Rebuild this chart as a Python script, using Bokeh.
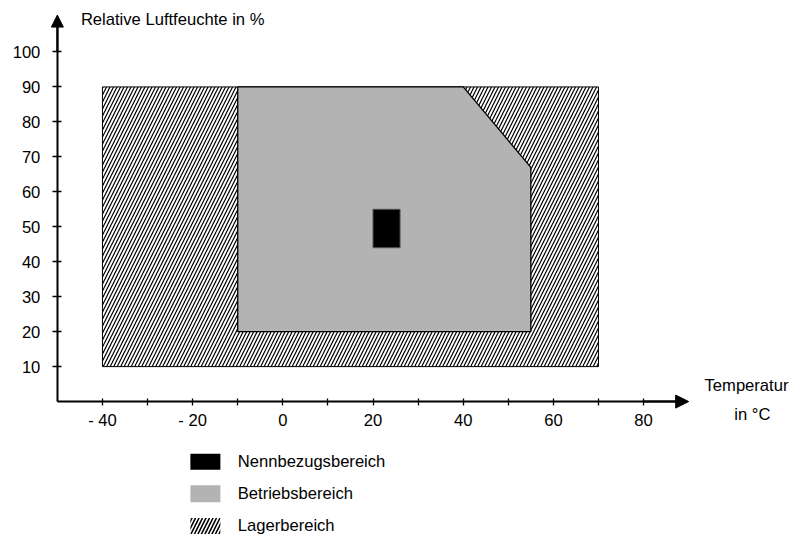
from bokeh.plotting import figure
from bokeh.models import Range1d, FixedTicker, Arrow, NormalHead
from bokeh.core.properties import value
from bokeh.embed import file_html
from bokeh.resources import INLINE

# ---- data ----
x_ticks = [-40, -30, -20, -10, 0, 10, 20, 30, 40, 50, 60, 70, 80]
x_tick_labels = ["- 40", "", "- 20", "", "0", "", "20", "", "40", "", "60", "", "80"]
y_ticks = [10, 20, 30, 40, 50, 60, 70, 80, 90, 100]

storage_x = [-40, 70]        # Lagerbereich (temperature range)
storage_y = [10, 90]         # Lagerbereich (humidity range)
operating_x = [-10, -10, 40, 55, 55]   # Betriebsbereich outline
operating_y = [20, 90, 90, 67, 20]
reference_x = [20, 26]       # Nennbezugsbereich
reference_y = [44, 55]

legend_labels = ["Nennbezugsbereich", "Betriebsbereich", "Lagerbereich"]
x_title = "Temperatur"
x_unit = "in °C"
y_title = "Relative Luftfeuchte in %"

FONT = "Liberation Sans"
FS = "16.6px"
GREY = "#b3b3b3"

# layout: reference picture 812x554 mapped onto a 796x538 canvas
W, H = 796, 538
RW, RH = 812, 554
XPX, YPX = 4.6, 3.6          # reference px per unit
X0, Y0 = 288, 413            # reference px of data origin


def dx(px):
    return (px - X0) / XPX


def dy(py):
    return (Y0 - py) / YPX


p = figure(width=W, height=H, output_backend="svg", toolbar_location=None,
           x_range=Range1d(dx(0), dx(RW)), y_range=Range1d(dy(RH), dy(0)),
           min_border=0, outline_line_color=None, background_fill_color="white")
p.grid.visible = False

x_axis_pos = 0
y_axis_pos = -50

# axes
xa = p.xaxis[0]
xa.fixed_location = x_axis_pos
xa.ticker = FixedTicker(ticks=x_ticks, minor_ticks=[])
xa.major_label_overrides = {t: l for t, l in zip(x_ticks, x_tick_labels)}
xa.bounds = (y_axis_pos, 88)
ya = p.yaxis[0]
ya.fixed_location = y_axis_pos
ya.ticker = FixedTicker(ticks=y_ticks, minor_ticks=[])
ya.bounds = (0, 108)
for ax in (xa, ya):
    ax.axis_line_width = 2
    ax.axis_line_color = "black"
    ax.major_tick_line_color = "black"
    ax.major_tick_line_width = 1.3
    ax.minor_tick_line_color = None
    ax.major_label_text_font = FONT
    ax.major_label_text_font_size = FS
    ax.major_label_text_color = "black"
xa.major_tick_in = 3
xa.major_tick_out = 4
xa.major_label_standoff = 5
ya.major_tick_in = 4
ya.major_tick_out = 5
ya.major_label_standoff = 12

# regions
p.quad(left=[storage_x[0]], right=[storage_x[1]], bottom=[storage_y[0]], top=[storage_y[1]],
       fill_color="white", hatch_pattern="/", hatch_scale=7, hatch_weight=1.2,
       hatch_color="black", line_color="black", line_width=1)
p.patch(operating_x, operating_y, fill_color=GREY, line_color="black", line_width=1.3)
p.quad(left=[reference_x[0]], right=[reference_x[1]], bottom=[reference_y[0]], top=[reference_y[1]],
       fill_color="black", line_color="#555555", line_width=1)

# arrows
p.add_layout(Arrow(x_start=80, y_start=x_axis_pos, x_end=90, y_end=x_axis_pos, line_width=2,
                   end=NormalHead(size=13, fill_color="black", line_color="black")))
p.add_layout(Arrow(x_start=y_axis_pos, y_start=100, x_end=y_axis_pos, y_end=dy(15), line_width=2,
                   end=NormalHead(size=12, fill_color="black", line_color="black")))

# axis titles
p.text(x=[dx(82)], y=[dy(20)], text=[y_title],
       text_font=value(FONT), text_font_size=value(FS), text_align="left",
       text_baseline="middle", text_color="black")
p.text(x=[dx(761)], y=[dy(396)], text=[x_title],
       text_font=value(FONT), text_font_size=value(FS), text_align="center",
       text_baseline="middle", text_color="black")
p.text(x=[dx(767)], y=[dy(426)], text=[x_unit],
       text_font=value(FONT), text_font_size=value(FS), text_align="center",
       text_baseline="middle", text_color="black")

# legend (manual)
row_y = [dy(py) for py in (475, 508, 541)]
sw_x = dx(209)
lab_x = dx(242)
p.rect(x=[sw_x], y=[row_y[0]], width=30, height=16, width_units="screen", height_units="screen",
       fill_color="black", line_color=None)
p.rect(x=[sw_x], y=[row_y[1]], width=30, height=17, width_units="screen", height_units="screen",
       fill_color=GREY, line_color=None)
p.rect(x=[sw_x], y=[row_y[2]], width=30, height=16, width_units="screen", height_units="screen",
       fill_color="white", line_color=None, hatch_pattern="/", hatch_scale=7, hatch_weight=1.6,
       hatch_color="black")
p.text(x=[lab_x] * 3, y=row_y, text=legend_labels, text_font=value(FONT),
       text_font_size=value(FS), text_align="left", text_baseline="middle", text_color="black")

open("out.html", "w").write(file_html(p, INLINE))
